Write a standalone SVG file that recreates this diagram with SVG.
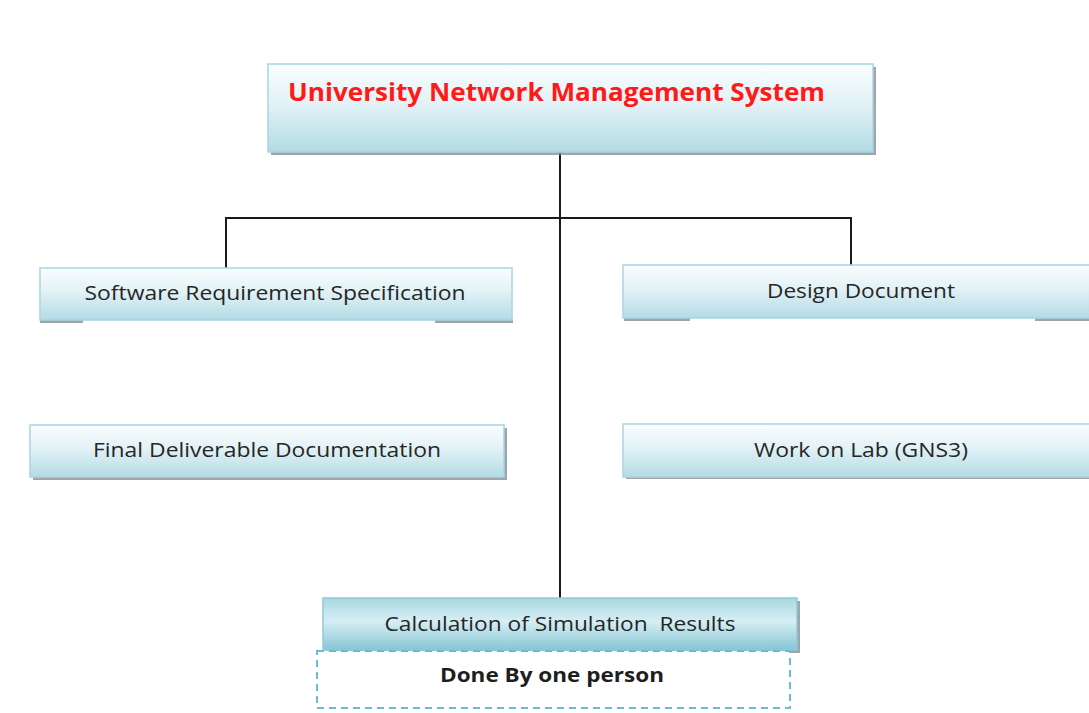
<svg xmlns="http://www.w3.org/2000/svg" width="1089" height="713" viewBox="0 0 1089 713">
  <defs>
    <linearGradient id="boxFill" x1="0" y1="0" x2="0" y2="1">
      <stop offset="0" stop-color="#fafdfe"/>
      <stop offset="0.45" stop-color="#e2f2f6"/>
      <stop offset="1" stop-color="#b3dbe5"/>
    </linearGradient>
    <linearGradient id="darkFill" x1="0" y1="0" x2="0" y2="1">
      <stop offset="0" stop-color="#a9d7e2"/>
      <stop offset="0.45" stop-color="#d6eef4"/>
      <stop offset="1" stop-color="#86c5d4"/>
    </linearGradient>
    <style>
      .box { fill: url(#boxFill); stroke: #a8d6e1; stroke-width: 1.5; }
      .dark { fill: url(#darkFill); stroke: #8fcad8; stroke-width: 1.5; }
      .shadow { fill: #8a8f93; opacity: 0.8; }
      .label { font-family: "Open Sans", "Liberation Sans", sans-serif; font-size: 20px; fill: #262626; text-anchor: middle; white-space: pre; }
      .title { font-family: "Open Sans", "Liberation Sans", sans-serif; font-size: 25px; font-weight: bold; fill: #ff1a1a; }
      .note { font-family: "Open Sans", "Liberation Sans", sans-serif; font-size: 20px; font-weight: bold; fill: #1e1e1e; text-anchor: middle; }
      .link { fill: none; stroke: #1a1a1a; stroke-width: 2; }
    </style>
  </defs>

  <rect width="1089" height="713" fill="#ffffff"/>

  <!-- connectors -->
  <g id="connectors">
    <path class="link" d="M560 152 V598"/>
    <path class="link" d="M226 268 V218 H851 V265"/>
  </g>

  <!-- root -->
  <g id="root">
    <rect x="271" y="67" width="605" height="88" class="shadow"/>
    <rect x="268" y="64" width="605" height="88" class="box"/>
    <text x="288" y="101" class="title" textLength="537" lengthAdjust="spacingAndGlyphs">University Network Management System</text>
  </g>

  <g id="srs">
    <rect x="40" y="319" width="43" height="4" class="shadow"/>
    <rect x="435" y="319" width="78" height="4" class="shadow"/>
    <rect x="40" y="268" width="472" height="52" class="box"/>
    <text x="275" y="300" class="label" textLength="381" lengthAdjust="spacingAndGlyphs">Software Requirement Specification</text>
  </g>

  <g id="design">
    <rect x="624" y="317" width="66" height="4" class="shadow"/>
    <rect x="1035" y="317" width="54" height="4" class="shadow"/>
    <rect x="623" y="265" width="470" height="53" class="box"/>
    <text x="861" y="298" class="label" textLength="188" lengthAdjust="spacingAndGlyphs">Design Document</text>
  </g>

  <g id="final">
    <rect x="33" y="428" width="474" height="52" class="shadow"/>
    <rect x="30" y="425" width="474" height="52" class="box"/>
    <text x="267" y="457" class="label" textLength="348" lengthAdjust="spacingAndGlyphs">Final Deliverable Documentation</text>
  </g>

  <g id="lab">
    <rect x="626" y="427" width="470" height="52" class="shadow"/>
    <rect x="623" y="424" width="470" height="53" class="box"/>
    <text x="861" y="457" class="label" textLength="214" lengthAdjust="spacingAndGlyphs">Work on Lab (GNS3)</text>
  </g>

  <g id="calc">
    <rect x="326" y="601" width="474" height="52" class="shadow"/>
    <rect x="323" y="598" width="474" height="52" class="dark"/>
    <text x="560" y="631" class="label" textLength="351" lengthAdjust="spacingAndGlyphs" xml:space="preserve">Calculation of Simulation  Results</text>
  </g>

  <g id="note">
    <rect x="317" y="651" width="473" height="57" fill="#ffffff" stroke="#6bbccd" stroke-width="2" stroke-dasharray="7 5"/>
    <text x="552" y="682" class="note" textLength="224" lengthAdjust="spacingAndGlyphs">Done By one person</text>
  </g>
</svg>
